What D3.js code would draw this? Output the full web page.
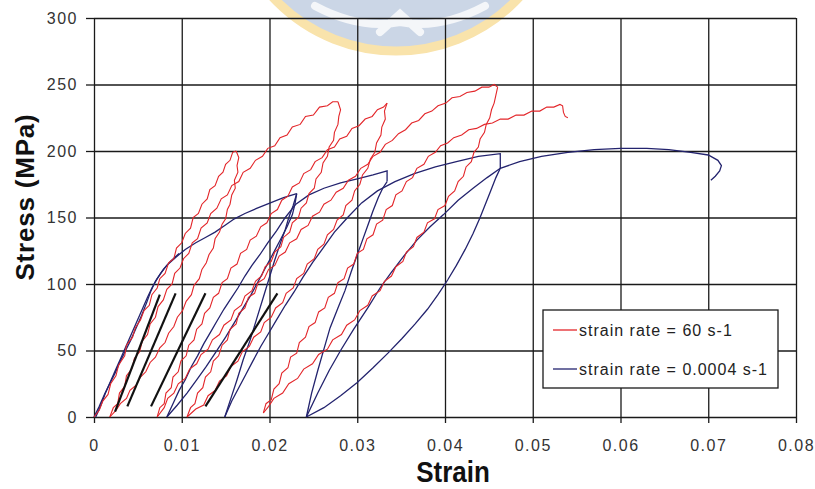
<!DOCTYPE html>
<html>
<head>
<meta charset="utf-8">
<title>Stress - Strain</title>
<script src="https://cdn.jsdelivr.net/npm/d3@7"></script>
<style>
  body { margin: 0; background: #fff; }
  text { font-family: "Liberation Sans", Arial, sans-serif; }
</style>
</head>
<body>
<svg id="chart"></svg>
<script>
// axis ticks
const xTicks = [0, 0.01, 0.02, 0.03, 0.04, 0.05, 0.06, 0.07, 0.08];
const yTicks = [0, 50, 100, 150, 200, 250, 300];
const legendLabels = ["strain rate = 60 s-1", "strain rate = 0.0004 s-1"];

// strain rate = 60 s-1  [strain, stress MPa]
const redLoad1 = [[0,0],[0.0006,5],[0.0010,12],[0.0016,17],[0.0019,25],[0.0025,31],[0.0028,39],[0.0035,46],[0.0037,54],[0.0044,60],[0.0047,67],[0.0053,73],[0.0057,80],[0.0063,84],[0.0066,92],[0.0072,97],[0.0075,104],[0.0081,108],[0.0085,116],[0.0091,119],[0.0094,127],[0.0100,131],[0.0104,138],[0.0110,142],[0.0113,150],[0.0119,153],[0.0123,160],[0.0129,164],[0.0132,171],[0.0138,174],[0.0142,181],[0.0147,184],[0.0150,190],[0.0155,193],[0.0158,199],[0.0162,200]];
const redUnload1 = [[0.0162,200],[0.0165,195],[0.0163,189],[0.0164,184],[0.0160,178],[0.0161,172],[0.0157,167],[0.0155,160],[0.0152,156],[0.0150,149],[0.0146,145],[0.0143,139],[0.0138,134],[0.0136,127],[0.0131,122],[0.0128,116],[0.0123,111],[0.0120,104],[0.0114,99],[0.0111,92],[0.0105,87],[0.0101,80],[0.0095,75],[0.0091,68],[0.0085,63],[0.0081,56],[0.0075,52],[0.0070,45],[0.0064,41],[0.0059,34],[0.0053,30],[0.0048,24],[0.0041,20],[0.0037,14],[0.0030,10],[0.0025,5],[0.0018,0]];
const redLoad2 = [[0.0018,0],[0.0022,7],[0.0027,10],[0.0029,18],[0.0035,23],[0.0037,31],[0.0043,36],[0.0046,44],[0.0052,49],[0.0055,57],[0.0061,62],[0.0064,70],[0.0070,75],[0.0073,83],[0.0079,88],[0.0083,96],[0.0089,100],[0.0092,108],[0.0098,112],[0.0102,119],[0.0108,123],[0.0112,131],[0.0118,134],[0.0122,142],[0.0129,146],[0.0133,153],[0.0140,157],[0.0145,164],[0.0152,167],[0.0157,174],[0.0165,177],[0.0170,184],[0.0178,187],[0.0184,193],[0.0192,196],[0.0198,202],[0.0206,204],[0.0212,210],[0.0220,212],[0.0226,218],[0.0235,220],[0.0241,226],[0.0250,227],[0.0257,233],[0.0266,234],[0.0272,237],[0.0278,237]];
const redUnload2 = [[0.0278,237],[0.0281,231],[0.0279,226],[0.0278,220],[0.0274,214],[0.0273,208],[0.0268,203],[0.0266,196],[0.0261,191],[0.0259,184],[0.0253,179],[0.0251,172],[0.0245,168],[0.0242,161],[0.0236,157],[0.0233,150],[0.0226,146],[0.0223,139],[0.0216,135],[0.0213,128],[0.0206,124],[0.0202,117],[0.0195,113],[0.0191,106],[0.0184,102],[0.0180,95],[0.0172,91],[0.0168,84],[0.0160,80],[0.0156,73],[0.0148,69],[0.0143,62],[0.0135,58],[0.0130,51],[0.0122,47],[0.0117,40],[0.0109,36],[0.0104,29],[0.0096,25],[0.0091,18],[0.0084,14],[0.0080,7],[0.0072,0]];
const redLoad3 = [[0.0072,0],[0.0075,7],[0.0080,10],[0.0082,18],[0.0088,22],[0.0090,30],[0.0096,34],[0.0099,42],[0.0105,46],[0.0108,54],[0.0114,58],[0.0117,66],[0.0123,70],[0.0126,78],[0.0132,82],[0.0136,90],[0.0142,93],[0.0146,101],[0.0152,104],[0.0156,112],[0.0163,115],[0.0167,123],[0.0174,126],[0.0178,133],[0.0185,136],[0.0190,143],[0.0197,146],[0.0202,153],[0.0209,156],[0.0214,163],[0.0221,166],[0.0226,173],[0.0234,176],[0.0239,183],[0.0247,186],[0.0252,192],[0.0260,195],[0.0266,201],[0.0274,203],[0.0280,209],[0.0288,211],[0.0294,217],[0.0302,219],[0.0309,224],[0.0317,226],[0.0323,231],[0.0330,233],[0.0334,236]];
const redUnload3 = [[0.0334,236],[0.0331,230],[0.0332,224],[0.0328,218],[0.0327,212],[0.0322,206],[0.0320,199],[0.0315,194],[0.0312,187],[0.0306,182],[0.0303,175],[0.0297,170],[0.0294,163],[0.0287,159],[0.0284,152],[0.0277,148],[0.0273,141],[0.0266,137],[0.0262,130],[0.0255,126],[0.0251,119],[0.0243,115],[0.0239,108],[0.0231,104],[0.0227,97],[0.0219,93],[0.0215,86],[0.0207,82],[0.0202,75],[0.0194,71],[0.0190,64],[0.0182,60],[0.0177,53],[0.0169,49],[0.0164,42],[0.0156,38],[0.0151,31],[0.0143,27],[0.0138,20],[0.0130,16],[0.0125,9],[0.0116,6],[0.0106,0]];
const redLoad4 = [[0.0106,0],[0.0110,7],[0.0115,10],[0.0118,18],[0.0124,22],[0.0127,30],[0.0133,34],[0.0136,42],[0.0142,46],[0.0146,54],[0.0152,58],[0.0155,66],[0.0162,70],[0.0165,78],[0.0172,82],[0.0176,90],[0.0183,93],[0.0187,101],[0.0194,104],[0.0199,111],[0.0206,114],[0.0211,121],[0.0218,124],[0.0223,131],[0.0231,134],[0.0236,141],[0.0244,144],[0.0249,151],[0.0257,154],[0.0262,160],[0.0270,163],[0.0276,169],[0.0284,172],[0.0290,178],[0.0298,181],[0.0304,187],[0.0312,190],[0.0318,196],[0.0326,199],[0.0332,205],[0.0340,208],[0.0347,213],[0.0355,216],[0.0362,221],[0.0370,223],[0.0377,228],[0.0385,230],[0.0392,234],[0.0401,236],[0.0408,240],[0.0417,241],[0.0425,244],[0.0434,245],[0.0442,248],[0.0450,248],[0.0456,250],[0.0460,248]];
const redUnload4 = [[0.0460,248],[0.0458,242],[0.0456,236],[0.0453,231],[0.0451,225],[0.0447,220],[0.0445,214],[0.0440,209],[0.0438,203],[0.0433,199],[0.0430,192],[0.0424,188],[0.0421,181],[0.0415,177],[0.0411,170],[0.0404,166],[0.0400,159],[0.0392,156],[0.0388,149],[0.0380,146],[0.0376,139],[0.0368,135],[0.0364,128],[0.0356,124],[0.0352,117],[0.0344,113],[0.0339,106],[0.0331,102],[0.0326,95],[0.0317,91],[0.0312,84],[0.0303,80],[0.0297,73],[0.0288,69],[0.0282,62],[0.0272,58],[0.0266,51],[0.0256,47],[0.0249,40],[0.0239,36],[0.0232,29],[0.0222,25],[0.0215,18],[0.0205,14],[0.0199,8],[0.0193,3]];
const redLoad5 = [[0.0193,3],[0.0196,10],[0.0202,13],[0.0205,21],[0.0211,25],[0.0214,33],[0.0221,37],[0.0224,45],[0.0231,48],[0.0234,56],[0.0241,60],[0.0245,68],[0.0252,71],[0.0256,79],[0.0263,82],[0.0267,90],[0.0274,93],[0.0278,101],[0.0285,104],[0.0289,112],[0.0296,115],[0.0300,123],[0.0307,126],[0.0311,134],[0.0318,137],[0.0322,145],[0.0329,148],[0.0333,156],[0.0340,159],[0.0344,167],[0.0351,170],[0.0356,177],[0.0363,180],[0.0368,187],[0.0376,190],[0.0381,196],[0.0389,199],[0.0395,204],[0.0403,206],[0.0410,210],[0.0419,212],[0.0427,216],[0.0436,217],[0.0445,220],[0.0454,221],[0.0463,224],[0.0472,224],[0.0481,227],[0.0490,227],[0.0499,230],[0.0508,230],[0.0516,233],[0.0524,233],[0.0531,235],[0.0534,234],[0.0535,229],[0.0537,226],[0.0540,225]];

// strain rate = 0.0004 s-1
const blueLoad1 = [[0,0],[0.0006,8],[0.0012,17],[0.0018,25],[0.0024,33],[0.0030,42],[0.0036,50],[0.0042,58],[0.0048,67],[0.0054,76],[0.0060,86],[0.0065,95],[0.0070,102],[0.0076,108],[0.0083,114],[0.0093,120],[0.0104,126],[0.0116,131],[0.0127,135],[0.0138,139],[0.0149,144],[0.0160,149],[0.0172,153],[0.0186,157],[0.0201,161],[0.0216,165],[0.0231,168]];
const blueRepeat = [[0.0002,0],[0.0008,9],[0.0013,18],[0.0019,27],[0.0025,36],[0.0031,45],[0.0037,54],[0.0043,63],[0.0049,72],[0.0055,81],[0.0061,90],[0.0066,97],[0.0072,104],[0.0079,111],[0.0087,117],[0.0097,123]];
const blueUnload1a = [[0.0231,168],[0.0227,159],[0.0222,150],[0.0218,141],[0.0212,130],[0.0206,118],[0.0199,103],[0.0192,88],[0.0185,73],[0.0178,58],[0.0170,43],[0.0163,28],[0.0156,14],[0.0149,0]];
const blueUnload1b = [[0.0231,168],[0.0229,160],[0.0226,152],[0.0220,143],[0.0213,134],[0.0205,124],[0.0196,113],[0.0188,103],[0.0179,92],[0.0170,82],[0.0160,71],[0.0150,60],[0.0139,49],[0.0128,38],[0.0117,28],[0.0106,18],[0.0095,9],[0.0083,0]];
const blueLoad2 = [[0.0083,0],[0.0090,10],[0.0097,20],[0.0104,28],[0.0111,38],[0.0118,46],[0.0125,55],[0.0133,64],[0.0140,72],[0.0148,81],[0.0156,89],[0.0164,97],[0.0172,106],[0.0180,114],[0.0189,122],[0.0198,131],[0.0208,140],[0.0218,150],[0.0230,160],[0.0245,167],[0.0262,172],[0.0281,176],[0.0300,179],[0.0318,182],[0.0334,185],[0.0334,177]];
const blueUnload2 = [[0.0334,177],[0.0329,172],[0.0324,165],[0.0318,155],[0.0312,144],[0.0306,133],[0.0300,122],[0.0293,109],[0.0286,95],[0.0278,82],[0.0269,67],[0.0262,51],[0.0255,35],[0.0248,18],[0.0242,0]];
const blueLoad3 = [[0.0149,0],[0.0157,12],[0.0165,22],[0.0173,32],[0.0181,42],[0.0190,53],[0.0199,63],[0.0208,73],[0.0218,84],[0.0228,94],[0.0238,105],[0.0249,116],[0.0261,127],[0.0274,139],[0.0289,150],[0.0305,161],[0.0323,170],[0.0343,177],[0.0365,183],[0.0389,188],[0.0413,192],[0.0438,196],[0.0463,198],[0.0463,187]];
const blueUnload3 = [[0.0463,187],[0.0458,180],[0.0452,170],[0.0446,160],[0.0440,150],[0.0432,138],[0.0423,126],[0.0413,114],[0.0403,103],[0.0392,92],[0.0380,81],[0.0366,70],[0.0351,59],[0.0335,48],[0.0318,37],[0.0300,26],[0.0281,16],[0.0262,7],[0.0242,0]];
const blueLoad4 = [[0.0242,0],[0.0255,18],[0.0268,35],[0.0281,50],[0.0296,66],[0.0312,82],[0.0326,97],[0.0338,108],[0.0353,121],[0.0368,133],[0.0383,143],[0.0398,152],[0.0415,163],[0.0432,172],[0.0448,180],[0.0463,187],[0.0485,192],[0.0510,196],[0.0540,199],[0.0570,201],[0.0600,202],[0.0630,202],[0.0655,201],[0.0680,199],[0.0700,197],[0.0711,193],[0.0715,189],[0.0713,185],[0.0708,181],[0.0703,178]];

// fitted unloading modulus lines
const modulusLines = [
  [[0.0024,4],[0.0075,92]],
  [[0.0038,8],[0.0093,93]],
  [[0.0065,8],[0.0127,93]],
  [[0.0127,8],[0.0209,93]]
];

const redSeries = [redLoad1, redUnload1, redLoad2, redUnload2, redLoad3, redUnload3, redLoad4, redUnload4, redLoad5];
const blueSeries = [blueLoad1, blueRepeat, blueUnload1a, blueUnload1b, blueLoad2, blueUnload2, blueLoad3, blueUnload3, blueLoad4];

const RED = "#e3262a", BLUE = "#23236e";

const width = 815, height = 489;
const mLeft = 94, mRight = 796, mTop = 18, mBottom = 417;

const svg = d3.select("#chart").attr("width", width).attr("height", height);

const x = d3.scaleLinear().domain([0, 0.08]).range([mLeft, mRight]);
const y = d3.scaleLinear().domain([0, 300]).range([mBottom, mTop]);

// faded logo behind the plot
const logo = svg.append("g");
logo.append("circle").attr("cx", 396).attr("cy", -117).attr("r", 168)
  .attr("fill", "#cbd6e6").attr("stroke", "#f9e3ab").attr("stroke-width", 9);
logo.append("path")
  .attr("d", "M315,6 Q360,30 400,22 Q440,30 485,6 M380,32 L400,14 L420,32")
  .attr("fill", "none").attr("stroke", "#f4f6f9").attr("stroke-width", 8).attr("stroke-linecap", "round");

// grid
svg.append("g").attr("transform", `translate(0,${mBottom})`)
  .call(d3.axisBottom(x).tickValues(xTicks).tickSize(-(mBottom - mTop)).tickFormat(""))
  .call(g => g.select(".domain").remove())
  .selectAll("line").attr("stroke", "#1a1a1a").attr("stroke-width", 1.3);
svg.append("g").attr("transform", `translate(${mLeft},0)`)
  .call(d3.axisLeft(y).tickValues(yTicks).tickSize(-(mRight - mLeft)).tickFormat(""))
  .call(g => g.select(".domain").remove())
  .selectAll("line").attr("stroke", "#1a1a1a").attr("stroke-width", 1.3);

// axes with outer ticks
const xAxis = svg.append("g").attr("transform", `translate(0,${mBottom})`)
  .call(d3.axisBottom(x).tickValues(xTicks).tickSize(6).tickPadding(17)
    .tickFormat(d => d === 0 ? "0" : d3.format(".2f")(d)));
const yAxis = svg.append("g").attr("transform", `translate(${mLeft},0)`)
  .call(d3.axisLeft(y).tickValues(yTicks).tickSize(8).tickPadding(8));
[xAxis, yAxis].forEach(a => {
  a.select(".domain").remove();
  a.selectAll("line").attr("stroke", "#1a1a1a").attr("stroke-width", 1.3);
  a.selectAll("text").attr("font-size", 16).attr("letter-spacing", 1.5)
    .attr("fill", "#333").style("font-family", "'Liberation Sans', Arial, sans-serif");
});

const line = d3.line().x(d => x(d[0])).y(d => y(d[1]));

svg.append("g").selectAll("path").data(blueSeries).join("path")
  .attr("d", line).attr("fill", "none").attr("stroke", BLUE).attr("stroke-width", 1.3);
svg.append("g").selectAll("path").data(redSeries).join("path")
  .attr("d", line).attr("fill", "none").attr("stroke", RED).attr("stroke-width", 1.1);
svg.append("g").selectAll("path").data(modulusLines).join("path")
  .attr("d", line).attr("fill", "none").attr("stroke", "#111").attr("stroke-width", 2.2);

// axis titles
svg.append("text").attr("transform", "translate(34,197) rotate(-90)")
  .attr("text-anchor", "middle").attr("font-size", 26).attr("font-weight", "bold")
  .attr("letter-spacing", 0.8).attr("fill", "#111").text("Stress (MPa)");
svg.append("text").attr("transform", "translate(453,482) scale(1,1.12)")
  .attr("text-anchor", "middle").attr("font-size", 26).attr("font-weight", "bold")
  .attr("fill", "#111").text("Strain");

// legend
const legend = svg.append("g");
legend.append("rect").attr("x", 543).attr("y", 310).attr("width", 235).attr("height", 78)
  .attr("fill", "#fff").attr("stroke", "#1a1a1a").attr("stroke-width", 1.3);
legendLabels.forEach((label, i) => {
  const ly = 330 + i * 39;
  legend.append("line").attr("x1", 553).attr("x2", 577).attr("y1", ly).attr("y2", ly)
    .attr("stroke", i === 0 ? RED : BLUE).attr("stroke-width", 1.3);
  legend.append("text").attr("x", 579).attr("y", ly + 6).attr("font-size", 16)
    .attr("letter-spacing", 1).attr("fill", "#222").text(label);
});
</script>
</body>
</html>
